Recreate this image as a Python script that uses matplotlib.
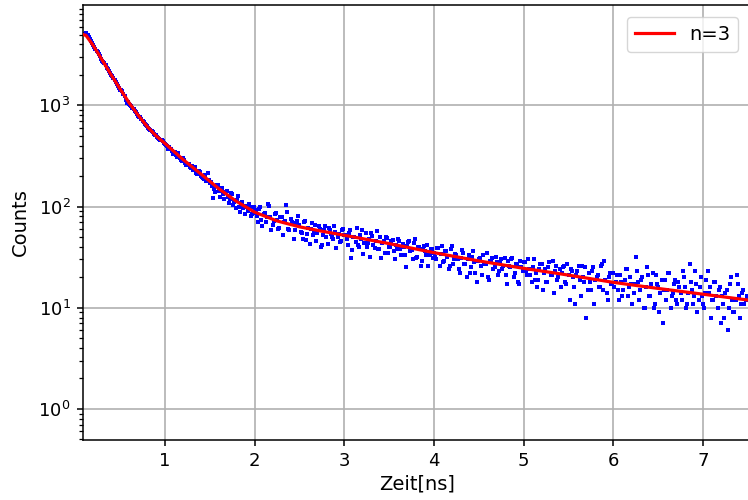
import matplotlib.pyplot as plt
import numpy as np

# TCSPC decay histogram, 12.5 ps channels starting at 0.1 ns,
# stored as even channels (counts_a) and odd channels (counts_b)
t0 = 0.1
dt = 0.025
counts_a = [
    # 0.1 - 1.0 ns
    5050, 5150, 4700, 4300, 3950, 3600, 3350, 3050, 2750, 2600,
    2350, 2200, 2000, 1850, 1700, 1560, 1430, 1380, 1250, 1060,
    1040, 990, 920, 850, 790, 760, 700, 660, 625, 590,
    560, 520, 505, 475, 455, 440, 415,
    # 1.0 - 2.0 ns
    400, 385, 350, 340, 320, 335, 290, 300, 270, 262,
    245, 250, 228, 215, 225, 200, 190, 205, 215, 170,
    160, 150, 165, 142, 150, 132, 140, 125, 118, 132,
    110, 115, 100, 108, 96, 102, 90, 98, 85, 92,
    # 2.0 - 3.0 ns
    80, 95, 74, 84, 70, 105, 78, 66, 85, 73,
    62, 78, 70, 104, 60, 75, 68, 58, 72, 66,
    55, 70, 47, 62, 60, 52, 66, 55, 60, 42,
    58, 50, 62, 54, 48, 56, 50, 45, 58, 52,
    # 3.0 - 4.0 ns
    48, 55, 31, 50, 45, 42, 52, 58, 44, 40,
    48, 55, 42, 46, 38, 50, 44, 35, 49, 40,
    46, 36, 42, 48, 38, 43, 33, 41, 46, 37,
    44, 31, 40, 26, 38, 36, 42, 33, 38, 35,
    # 4.0 - 5.0 ns
    30, 39, 34, 28, 36, 32, 26, 41, 30, 33,
    24, 31, 35, 27, 30, 22, 32, 28, 18, 30,
    26, 33, 27, 20, 29, 31, 25, 28, 23, 30,
    26, 21, 29, 25, 31, 22, 27, 17, 25, 28,
    # 5.0 - 6.0 ns
    23, 30, 21, 25, 19, 16, 24, 27, 22, 18,
    25, 21, 29, 23, 19, 24, 22, 26, 17, 21,
    24, 20, 11, 23, 19, 26, 18, 8, 22, 15,
    25, 19, 21, 16, 27, 29, 14, 20, 17, 22,
    # 6.0 - 7.5 ns
    18, 15, 21, 13, 19, 24, 16, 17, 14, 32,
    18, 15, 20, 10, 25, 13, 17, 10, 21, 16,
    14, 7, 19, 15, 22, 13, 17, 12, 18, 14,
    23, 16, 11, 27, 15, 13, 17, 12, 20, 11,
    14, 23, 16, 12, 18, 13, 15, 7, 11, 14,
    6, 17, 12, 9, 21, 13, 11, 15, 12,
]
counts_b = [
    # 0.11 - 0.99 ns
    5100, 4900, 4500, 4150, 3800, 3450, 3200, 2900, 2680, 2480,
    2280, 2100, 1930, 1780, 1630, 1480, 1420, 1300, 1130, 1080,
    1010, 950, 880, 820, 775, 725, 680, 640, 600, 575,
    540, 512, 490, 465, 450, 428,
    # 1.01 - 1.99 ns
    405, 370, 372, 330, 345, 310, 305, 280, 290, 255,
    262, 240, 232, 245, 210, 218, 195, 185, 178, 182,
    175, 122, 140, 165, 125, 152, 118, 142, 108, 135,
    104, 96, 128, 88, 112, 84, 100, 106, 80, 100,
    # 2.01 - 2.99 ns
    86, 70, 98, 64, 86, 78, 102, 58, 72, 86,
    60, 78, 52, 72, 88, 58, 70, 48, 66, 80,
    56, 48, 72, 54, 43, 68, 56, 46, 64, 40,
    52, 64, 43, 58, 50, 64, 39, 54, 46, 60,
    # 3.01 - 3.99 ns
    52, 42, 58, 37, 50, 62, 40, 48, 34, 55,
    44, 32, 51, 39, 57, 38, 31, 46, 50, 35,
    40, 47, 30, 38, 46, 33, 40, 25, 45, 36,
    30, 48, 32, 40, 29, 41, 33, 26, 38, 31,
    # 4.01 - 4.99 ns
    32, 39, 26, 41, 29, 36, 24, 38, 27, 34,
    30, 22, 37, 27, 20, 33, 25, 36, 22, 29,
    31, 21, 27, 35, 19, 29, 24, 32, 21, 28,
    24, 31, 17, 26, 30, 20, 27, 18, 29, 23,
    # 5.01 - 5.99 ns
    28, 21, 24, 18, 30, 22, 19, 27, 15, 24,
    18, 28, 21, 14, 26, 20, 16, 25, 18, 27,
    12, 23, 16, 21, 26, 13, 20, 25, 15, 18,
    23, 11, 20, 16, 26, 15, 19, 12, 22, 17,
    # 6.01 - 7.49 ns
    16, 21, 12, 18, 15, 24, 13, 20, 11, 17,
    23, 12, 19, 10, 16, 21, 13, 22, 11, 17,
    9, 19, 15, 12, 22, 10, 14, 19, 11, 16,
    12, 20, 10, 14, 18, 11, 23, 9, 16, 13,
    10, 19, 14, 8, 12, 18, 10, 16, 13, 8,
    15, 10, 20, 9, 12, 17, 8, 14, 11, 13,
]
times_a = t0 + dt * np.arange(len(counts_a))
times_b = t0 + dt / 2 + dt * np.arange(len(counts_b))

# tri-exponential fit (n=3), sampled
fit_t = [0.09, 0.12, 0.2, 0.3, 0.4, 0.5, 0.6, 0.7, 0.8, 0.9, 1.0, 1.2, 1.4,
         1.6, 1.8, 2.0, 2.25, 2.5, 2.75, 3.0, 3.5, 4.0, 4.5, 5.0, 5.5, 6.0,
         6.5, 7.0, 7.6]
fit_y = [5000, 4900, 3900, 2800, 2000, 1450, 1060, 800, 620, 500, 420, 292, 210,
         150, 112, 88, 72, 63, 57, 52, 43, 35, 29, 24.5, 21, 17.8,
         15.5, 13.6, 11.6]

fig = plt.figure(figsize=(7.48, 5.0), dpi=100)
ax = fig.add_axes([83 / 748, 60 / 500, (751 - 83) / 748, 435 / 500])

ax.plot(times_a, counts_a, 'bs', markersize=2.2, markeredgewidth=0, zorder=2)
ax.plot(times_b, counts_b, 'bs', markersize=2.2, markeredgewidth=0, zorder=2)
ax.plot(fit_t, fit_y, 'r-', linewidth=2.3, label='n=3', zorder=3)

ax.set_yscale('log')
ax.set_xlim(0.086, 7.535)
ax.set_ylim(0.493, 9800)
ax.grid(True, color='#b0b0b0', linewidth=1.2)
ax.set_xticks([1, 2, 3, 4, 5, 6, 7])
ax.tick_params(labelsize=13, length=4.5, width=1.1, pad=4.5)
ax.tick_params(which='minor', length=2.7, width=0.9)
for s in ax.spines.values():
    s.set_linewidth(1.1)

ax.set_xlabel('Zeit[ns]', fontsize=14, labelpad=3)
ax.set_ylabel('Counts', fontsize=14, labelpad=6)
fig.legend(loc='upper right', bbox_to_anchor=(738 / 748, 1 - 17 / 500),
           borderaxespad=0, fontsize=14)

plt.savefig('out.png', dpi=100)
